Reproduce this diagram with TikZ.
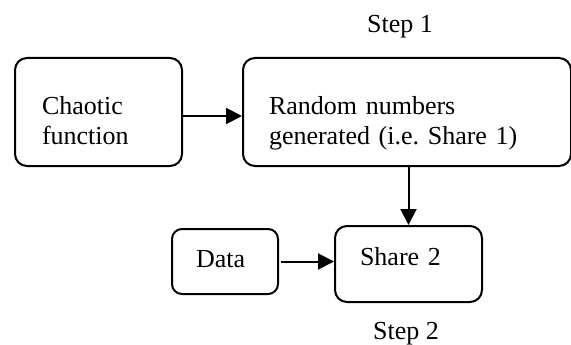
\documentclass[tikz,border=0pt]{standalone}
\usepackage{fontspec}
\setmainfont{Liberation Serif}
\newfontfamily\tnr{Liberation Serif}
\usetikzlibrary{arrows.meta}

\begin{document}
\begin{tikzpicture}[x=1pt,y=-1pt,
  box/.style={draw,line width=2pt,rounded corners=12pt,anchor=north west,
    align=left,inner ysep=0pt,font=\tnr\fontsize{26}{30}\selectfont},
  lbl/.style={anchor=base,font=\tnr\fontsize{26}{30}\selectfont},
  arr/.style={line width=2pt,-{Triangle[length=16pt,width=16pt]}}]
\useasboundingbox (0,0) rectangle (571,345);
\node [box,inner xsep=27pt,text width=113pt,minimum height=108pt,text depth=13pt] (c) at (14,57) {Chaotic\\function};
\node [box,inner xsep=26pt,text width=276pt,minimum height=108pt,text depth=13pt] (r) at (242,57) {Random numbers\\generated (i.e.\ Share 1)};
\node [box,rounded corners=10pt,inner xsep=24pt,text width=58pt,minimum height=65pt,text depth=5pt] (d) at (171,228) {Data};
\node [box,inner xsep=25pt,text width=97pt,minimum height=76pt,text depth=16pt] (s) at (334,225) {Share 2};
\node [lbl] (s1) at (400,33) {Step 1};
\node [lbl] (s2) at (406,339) {Step 2};
\draw [arr] ([yshift=-4pt]c.east) -- ([yshift=-4pt]c.east -| r.west);
\draw [arr] (r.south -| s.north) -- (s.north);
\draw [arr] ([xshift=2pt]d.east) -- (d.east -| s.west);
\end{tikzpicture}
\end{document}
